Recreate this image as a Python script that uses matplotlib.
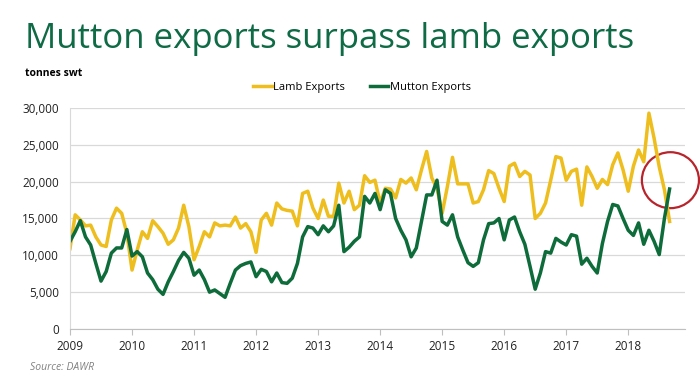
import numpy as np
import matplotlib.pyplot as plt
from matplotlib.patches import Ellipse
from matplotlib.ticker import FuncFormatter

plt.rcParams['font.family'] = ['Open Sans', 'DejaVu Sans']

# monthly exports, Jan 2009 - Sep 2018 (tonnes swt)
lamb = [10900, 15500, 14800, 14000, 14100, 12500, 11400, 11200, 14800, 16400, 15700, 13000,
        8000, 10700, 13200, 12300, 14700, 13900, 13000, 11500, 12100, 13700, 16800, 13900,
        9400, 11200, 13200, 12500, 14400, 14000, 14100, 14000, 15200, 13700, 14300, 13200,
        10400, 14800, 15700, 14100, 17100, 16300, 16100, 16000, 14000, 18400, 18700, 16400,
        15000, 17500, 15300, 15300, 19800, 17100, 18700, 16200, 16800, 20800, 19900, 20200,
        17100, 19100, 19000, 17800, 20300, 19800, 20500, 18900, 21600, 24100, 20500, 19100,
        15700, 19300, 23300, 19700, 19700, 19700, 17100, 17300, 18900, 21500, 21100, 19100,
        17300, 22100, 22500, 20700, 21400, 20900, 15000, 15700, 17100, 20200, 23400, 23200,
        20200, 21400, 21700, 16800, 22000, 20700, 19100, 20300, 19600, 22300, 23900, 21600,
        18700, 22100, 24300, 22700, 29300, 25900, 22000, 18900, 14600]
mutton = [11900, 13200, 14700, 12500, 11400, 8900, 6500, 7800, 10300, 11000, 11000, 13500,
          9900, 10500, 9800, 7600, 6700, 5400, 4700, 6400, 7800, 9300, 10400, 9600,
          7300, 8000, 6700, 5000, 5300, 4800, 4300, 6200, 8000, 8600, 8900, 9100,
          7100, 8100, 7800, 6400, 7600, 6300, 6200, 6900, 8900, 12500, 13900, 13700,
          12800, 14000, 13200, 14000, 16800, 10500, 11100, 11900, 12500, 18000, 17100, 18400,
          16200, 18900, 18400, 15000, 13400, 12100, 9800, 11000, 14600, 18200, 18200, 20200,
          14600, 14100, 15500, 12500, 10700, 9000, 8500, 9000, 12100, 14300, 14400, 15000,
          12100, 14800, 15200, 13200, 11500, 8500, 5400, 7600, 10500, 10300, 12300, 11800,
          11400, 12800, 12600, 8800, 9600, 8500, 7600, 11600, 14600, 16900, 16700, 15000,
          13400, 12700, 14400, 11500, 13400, 11900, 10100, 15000, 19000]
years = list(range(2009, 2019))

t = 2009 + np.arange(len(lamb)) / 12

yellow = '#EEBE1E'
green = '#0E6B3A'

fig = plt.figure(figsize=(7, 3.85), dpi=100)
ax = fig.add_axes([0.1, 0.1455, 0.879, 0.574])

ax.plot(t, lamb, color=yellow, lw=2.5, label='Lamb Exports')
ax.plot(t, mutton, color=green, lw=2.5, label='Mutton Exports')

ax.set_xlim(2009, 2018.92)
ax.set_ylim(0, 30000)
ax.set_yticks(range(0, 30001, 5000))
ax.yaxis.set_major_formatter(FuncFormatter(lambda v, p: f'{int(v):,}'))
ax.set_xticks(years)
ax.set_xticklabels([str(y) for y in years])
ax.grid(axis='y', color='#d9d9d9', lw=0.9)
ax.set_axisbelow(True)
for s in ['top', 'right']:
    ax.spines[s].set_visible(False)
ax.spines['left'].set_color('#d9d9d9')
ax.spines['bottom'].set_color('#bfbfbf')
ax.tick_params(axis='y', length=0, labelsize=8.5, colors='#222222', pad=8)
ax.tick_params(axis='x', length=4, color='#bfbfbf', labelsize=8.5, colors='#222222', pad=4)

# red circle highlighting the crossover
ax.add_patch(Ellipse((2018.68, 20200), 0.92, 7600, fill=False, ec='#B8242B', lw=1.6, clip_on=False))

fig.text(0.036, 0.9, 'Mutton exports surpass lamb exports', color='#0E6B45', fontsize=25,
         va='center', ha='left')
fig.text(0.036, 0.81, 'tonnes swt', fontsize=7.5, fontweight='bold', va='center')
fig.text(0.043, 0.045, 'Source: DAWR', fontsize=7.5, style='italic', color='#808080', va='center')

fig.legend(loc='center', bbox_to_anchor=(0.517, 0.772), ncol=2, frameon=False, fontsize=8,
           handlelength=1.7, handletextpad=0.1, columnspacing=2.2)

fig.savefig('out.png', dpi=100)
